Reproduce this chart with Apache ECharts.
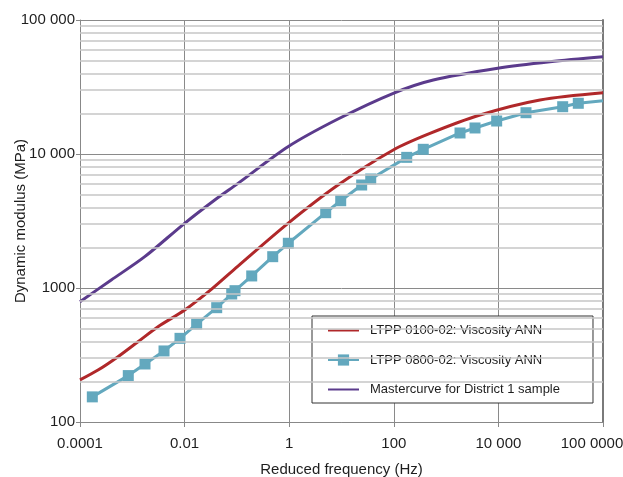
<!DOCTYPE html>
<html>
<head>
<meta charset="utf-8">
<script src="https://cdn.jsdelivr.net/npm/echarts@6/dist/echarts.min.js"></script>
<style>
  html, body { margin: 0; padding: 0; background: #ffffff; }
  #chart { width: 623px; height: 477px; }
</style>
</head>
<body>
<div id="chart"></div>
<script>
// Reduced frequency (Hz) / dynamic modulus (MPa) pairs for each curve
const redFreq = [0.0001, 0.000221, 0.000533, 0.001285, 0.0031, 0.01004, 0.0324, 0.105, 0.948, 8.57, 97.7, 492, 4450, 62400, 1000000];
const redModulus = [206, 244, 307, 397, 514, 685, 977, 1459, 3040, 5870, 10720, 14250, 19540, 25300, 28650];

const blueFreq = [0.000172, 0.000838, 0.00175, 0.00404, 0.00817, 0.0170, 0.0411, 0.0796, 0.092, 0.192, 0.484, 0.962,
                  4.99, 9.66, 24.3, 36.2, 176.6, 366, 1845, 3570, 9270, 33700, 169500, 337000, 1000000];
const blueModulus = [154, 222, 271, 339, 421, 538, 713, 902, 955, 1230, 1713, 2157,
                     3647, 4480, 5870, 6510, 9440, 10840, 14350, 15640, 17630, 20330, 22540, 23900, 25000];

const purpleFreq = [0.0001, 0.000396, 0.00173, 0.01, 0.0377, 0.105, 0.948, 8.57, 97.7, 569, 9700, 97000, 1000000];
const purpleModulus = [791, 1148, 1713, 3040, 4540, 6040, 11330, 18240, 28380, 35650, 43660, 48850, 53200];

const seriesNames = ['LTPP 0100-02: Viscosity ANN', 'LTPP 0800-02: Viscosity ANN', 'Mastercurve for District 1 sample'];

// Tick labels
const xTickExponents = [-4, -2, 0, 2, 4, 6];
const xTickLabels = ['0.0001', '0.01', '1', '100', '10 000', '100 0000'];
const yTickExponents = [2, 3, 4, 5];
const yTickLabels = ['100', '1000', '10 000', '100 000'];

const FONT = '"Liberation Sans", Arial, sans-serif';

const xTickValues = xTickExponents.map(e => Math.pow(10, e));
const yTickValues = yTickExponents.map(e => Math.pow(10, e));

// Minor horizontal grid: 2..9 times each decade inside the y range
const minorGrid = [];
for (let e = 2; e < 5; e++) {
  for (let m = 2; m <= 9; m++) minorGrid.push({ yAxis: m * Math.pow(10, e) });
}

function labelFor(v, exps, labels) {
  const i = exps.indexOf(Math.round(Math.log10(v)));
  return i >= 0 ? labels[i] : '';
}

const zip = (xs, ys) => xs.map((x, i) => [x, ys[i]]);
const blueData = zip(blueFreq, blueModulus).map((p, i, arr) =>
  i === arr.length - 1 ? { value: p, symbol: 'none' } : p);

// plain-line legend keys for the curves without markers
const hiddenSymbol = { opacity: 0 };

const chart = echarts.init(document.getElementById('chart'), null, { renderer: 'canvas' });

chart.setOption({
  animation: false,
  backgroundColor: '#ffffff',
  grid: { left: 80, right: 20, top: 20, bottom: 55, containLabel: false, outerBoundsMode: 'none' },
  legend: {
    data: [
      { name: seriesNames[0], itemStyle: hiddenSymbol },
      { name: seriesNames[1] },
      { name: seriesNames[2], itemStyle: hiddenSymbol }
    ],
    orient: 'vertical',
    left: 312,
    top: 316,
    padding: [8, 33, 7, 15],
    itemWidth: 31,
    itemHeight: 14,
    itemGap: 16.5,
    backgroundColor: '#ffffff',
    borderColor: '#333333',
    borderWidth: 1,
    borderRadius: 0,
    textStyle: { fontFamily: FONT, fontSize: 13, color: '#1e1e1e', padding: [0, 0, 0, 6] }
  },
  xAxis: {
    type: 'log',
    logBase: 10,
    min: 1e-4,
    max: 1e6,
    name: 'Reduced frequency (Hz)',
    nameLocation: 'middle',
    nameGap: 40,
    nameMoveOverlap: false,
    nameTextStyle: { fontFamily: FONT, fontSize: 15, color: '#1e1e1e' },
    axisLine: { show: true, lineStyle: { color: '#888888', width: 1 } },
    axisTick: { show: true, length: 5, customValues: xTickValues, lineStyle: { color: '#888888' } },
    axisLabel: {
      customValues: xTickValues,
      margin: 14,
      fontFamily: FONT, fontSize: 15, color: '#1e1e1e',
      formatter: v => {
        const text = labelFor(v, xTickExponents, xTickLabels);
        // the last label is pulled in so it stays inside the frame
        return Math.round(Math.log10(v)) === xTickExponents[xTickExponents.length - 1]
          ? '{edge|' + text + '}' : text;
      },
      rich: {
        edge: { fontFamily: FONT, fontSize: 15, color: '#1e1e1e', padding: [0, 22, 0, 0] }
      }
    },
    splitLine: { show: true, lineStyle: { color: '#8a8a8a', width: 1 } }
  },
  yAxis: [{
    type: 'log',
    logBase: 10,
    min: 100,
    max: 100000,
    name: 'Dynamic modulus (MPa)',
    nameLocation: 'middle',
    nameGap: 52,
    nameMoveOverlap: false,
    nameTextStyle: { fontFamily: FONT, fontSize: 15, color: '#1e1e1e' },
    axisLine: { show: true, lineStyle: { color: '#888888', width: 1 } },
    axisTick: { show: true, length: 4, customValues: yTickValues, lineStyle: { color: '#888888' } },
    axisLabel: {
      customValues: yTickValues,
      margin: 5,
      fontFamily: FONT, fontSize: 15, color: '#1e1e1e',
      formatter: v => labelFor(v, yTickExponents, yTickLabels)
    },
    splitLine: { show: true, lineStyle: { color: '#8a8a8a', width: 1 } }
  }, {
    // right-hand frame edge
    type: 'log',
    logBase: 10,
    min: 100,
    max: 100000,
    position: 'right',
    axisLine: { show: true, lineStyle: { color: '#7a7a7a', width: 2 } },
    axisTick: { show: false },
    axisLabel: { show: false },
    splitLine: { show: false }
  }],
  series: [
    {
      name: 'minor-grid',
      type: 'line',
      data: [],
      z: 1,
      silent: true,
      markLine: {
        silent: true,
        symbol: ['none', 'none'],
        label: { show: false },
        lineStyle: { color: '#c6c6c6', width: 1.5, type: 'solid' },
        emphasis: { disabled: true },
        data: minorGrid
      }
    },
    {
      name: seriesNames[0],
      type: 'line',
      data: zip(redFreq, redModulus),
      smooth: 0.3,
      showSymbol: false,
      symbol: 'none',
      z: 3,
      color: '#b0282a',
      lineStyle: { color: '#b0282a', width: 3 }
    },
    {
      name: seriesNames[1],
      type: 'line',
      data: blueData,
      symbol: 'rect',
      symbolSize: 11,
      z: 4,
      color: '#63a8be',
      itemStyle: { color: '#63a8be' },
      lineStyle: { color: '#63a8be', width: 3 }
    },
    {
      name: seriesNames[2],
      type: 'line',
      data: zip(purpleFreq, purpleModulus),
      smooth: 0.3,
      showSymbol: false,
      symbol: 'none',
      z: 3,
      color: '#5b3b8c',
      lineStyle: { color: '#5b3b8c', width: 3 }
    }
  ]
});
</script>
</body>
</html>
